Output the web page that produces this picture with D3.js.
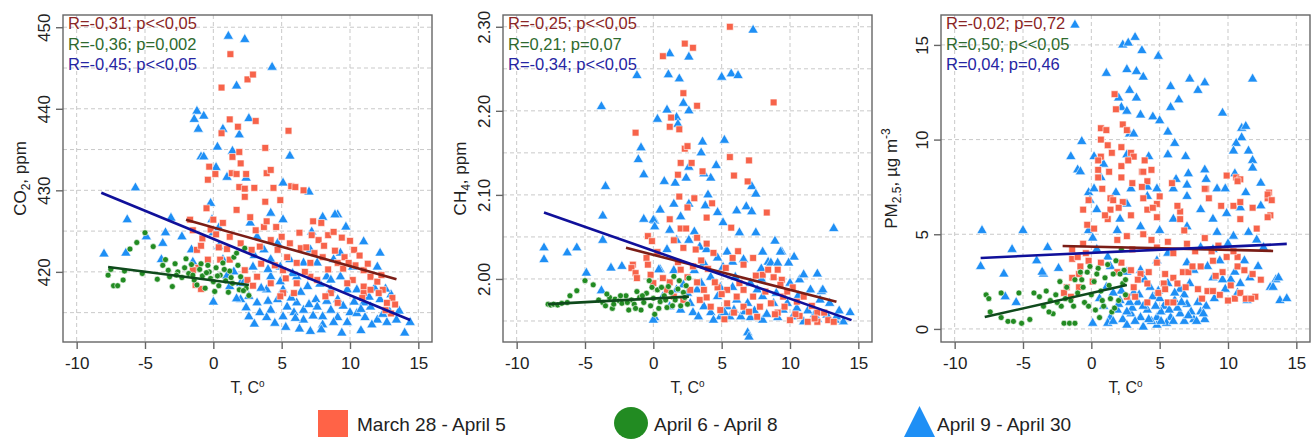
<!DOCTYPE html>
<html>
<head>
<meta charset="UTF-8">
<title>Temperature vs CO2, CH4, PM2.5</title>
<style>
    body { margin: 0; background: #fff; }
    svg { display: block; font-family: "Liberation Sans", Arial, sans-serif; }
</style>
</head>
<body>
<svg></svg>
<script src="https://d3js.org/d3.v7.min.js"></script>
<script>

// ---- data (temperature, value) ----
let tempTicks = [-10, -5, 0, 5, 10, 15];
let groupNames = ["March 28 - April 5", "April 6 - April 8", "April 9 - April 30"];

// CO2, ppm
let co2Ticks = [420, 430, 440, 450];
let co2Grid = [415, 420, 425, 430, 435, 440, 445, 450];
let co2Stats = ["R=-0,31; p<<0,05", "R=-0,36; p=0,002", "R=-0,45; p<<0,05"];
let co2Fit = [[-2.0, 426.4, 13.4, 419.1], [-7.7, 420.6, 2.6, 418.4], [-8.2, 429.7, 14.4, 414.1]];
let co2Sq = [[1.25,446.7],[0.6,442.6],[2.5,443.6],[2.9,444.2],[1.2,438.7],[1.8,437.8],[0.6,437.0],[3.1,438.5],[5.5,437.3],[3.8,435.2],[1.4,434.1],[1.9,434.7],[2.0,433.3],[-0.3,432.9],[0.15,432.0],[1.35,432.1],[1.7,432.0],[2.4,432.0],[3.9,432.1],[4.2,432.5],[-0.4,431.3],[1.9,430.4],[2.3,430.2],[3.0,430.3],[4.4,430.3],[5.7,430.5],[6.0,430.4],[6.6,430.0],
    [-0.5,427.8],[0.0,426.4],[-1.7,426.4],[-1.5,425.1],[-0.8,424.1],[-1.2,422.7],[-0.4,421.5],[0.7,426.0],[1.2,424.3],[2.3,429.2],[1.7,427.6],[2.7,426.7],[3.1,425.1],[3.7,425.5],[3.8,428.6],[4.9,428.8],[2.8,422.7],[3.4,423.1],[4.2,423.9],[4.7,422.7],[5.4,421.8],[5.6,423.5],[6.1,421.1],[6.4,422.9],[7.3,426.2],[7.9,426.0],[7.2,424.5],[7.7,423.9],[8.4,424.5],[8.8,424.9],[9.4,424.2],[10.0,423.8],[8.0,421.8],[9.1,421.1],[9.6,421.8],[10.3,422.7],[10.7,422.0],[11.0,420.2],[11.5,419.4],[12.0,418.8],[12.4,417.8],[13.1,416.8],[13.3,416.0],[12.7,416.2],[12.1,417.4],[11.0,418.2],[10.2,419.0],[9.8,418.6],[9.1,416.2],[8.6,417.4],[8.2,417.0],[7.6,419.0],[7.1,419.4],[6.1,418.6],[5.9,417.4],[5.1,417.4],[4.9,417.0],[4.2,418.6],[3.2,419.4],[2.5,419.0],[2.3,420.2],[1.2,421.5],[0.5,421.5],[-1.1,420.5],[-1.5,420.2],[5.1,420.2],[7.1,421.1],[11.0,417.4],[11.5,417.8],[-1.3,418.4],[-0.9,417.9],[-0.2,425.2],[0.4,423.0],[13.0,414.9],
    [3.5,421.0],[4.5,420.8],[5.3,419.2],[6.7,420.0],[7.4,422.3],[8.1,423.2],[8.9,422.6],[9.5,420.4],[10.4,420.8],[11.3,421.0],[12.3,419.6],[6.3,424.8],[5.0,424.3],[2.0,423.5],[1.0,422.8],[0.2,424.6],[-0.9,423.2],[3.9,426.2],[4.6,425.5],[6.8,423.0],[9.9,421.1],[12.6,415.3],[10.9,416.8],[8.4,420.3],[2.9,418.3]];
let co2Cir = [[-7.7,419.6],[-7.5,420.3],[-7.3,418.3],[-7.0,418.3],[-6.6,419.0],[-6.5,420.1],[-6.1,422.8],[-5.6,423.6],[-5.2,419.8],[-5.0,424.8],[-4.4,423.1],[-4.1,419.1],[-3.7,420.8],[-3.5,421.5],[-3.3,420.2],[-3.0,418.2],[-2.8,421.0],[-2.6,420.0],[-2.3,419.3],[-2.0,421.6],[-1.8,419.8],[-1.6,420.9],[-1.4,419.0],[-1.2,418.4],[-1.0,420.3],[-0.8,419.5],[-0.6,418.0],[-0.4,420.8],[-0.2,419.2],[0.0,418.8],[0.2,420.5],[0.4,418.3],[0.5,419.6],[0.7,421.1],[0.9,418.9],[1.1,417.5],[1.2,420.1],[1.4,418.6],[1.5,421.8],[1.7,422.3],[1.9,417.8],[2.0,419.4],[2.3,422.9],[2.4,418.0],[2.6,417.1],
    [-3.2,419.4],[-2.7,419.6],[-2.1,420.5],[-1.5,419.6],[-0.9,421.0],[-0.3,420.0],[0.3,419.5],[0.8,420.3],[1.3,419.3],[1.8,420.8],[2.2,417.7],[0.1,417.6],[-0.5,419.9]];
let co2Tri = [[1.1,448.9],[2.3,448.5],[4.3,445.1],[1.7,442.8],[-1.2,439.7],[-1.4,438.7],[-0.7,439.1],[-1.1,437.5],[0.7,437.5],[2.6,438.8],[1.9,436.8],[0.3,435.3],[1.4,434.8],[5.6,434.2],[-0.9,434.1],[-0.7,434.1],[0.2,432.8],[1.0,431.6],[2.4,431.5],[5.1,430.9],[7.0,429.8],[-5.7,430.3],
    [-8.0,422.2],[-6.3,426.4],[-6.4,422.3],[-4.9,424.3],[-3.5,424.8],[-3.7,423.5],[-3.8,421.5],[-3.1,426.6],[-2.3,424.3],[-1.6,422.7],[0.0,416.3],[2.6,414.5],[7.1,412.7],[9.4,412.5],[10.8,412.8],[14.0,412.5],[14.4,413.8],[12.2,422.3],[11.0,423.7],[9.1,427.0],[8.0,426.7],[9.3,422.3],[-0.1,426.4],[0.0,424.8],
    [8.9,427.0],[9.7,425.5],[12.0,420.6],[-1.5,421.2],[-0.2,428.4],[0.4,425.4],[0.4,423.1],[0.7,421.5],[1.2,418.2],[2.0,418.6],[2.6,417.0],[3.2,416.2],[3.9,417.8],[4.2,415.3],[3.9,414.4],[4.7,416.6],[5.1,417.8],[5.4,415.7],[5.9,415.0],[6.1,416.2],[6.6,415.3],[7.5,416.6],[8.0,414.5],[8.6,415.3],[9.1,414.4],[10.0,415.0],[11.1,414.4],[11.5,415.7],[12.2,416.6],[12.9,415.1],[13.4,414.1],[3.7,422.7],[4.2,421.5],[4.7,423.5],[4.9,420.6],[5.6,421.5],[6.1,419.4],[6.6,421.1],[7.1,422.7],[7.6,421.1],[8.3,419.4],[8.8,421.5],[9.3,419.4],[9.8,417.8],[10.5,417.8],[11.0,416.2],[8.6,417.8],[6.9,418.2],[4.2,419.4],[2.9,420.6],[2.2,418.6],[2.0,416.6],[2.7,426.0],[4.2,427.2],[5.1,426.4],[7.2,424.9],[3.2,424.3],[9.1,416.6],[7.6,415.7],[5.1,414.5],[6.6,414.1],[8.0,413.5],[9.8,413.8],[12.0,414.1],[12.7,413.8],
    [1.5,420.0],[3.5,418.0],[5.8,419.8],[7.8,418.5],[10.2,420.6],[11.8,418.0],[13.0,417.2],[3.0,422.0],[1.0,419.5],[6.3,413.0],[4.5,413.7],[10.5,414.9],
    [3.4,415.0],[4.0,416.4],[4.9,418.8],[5.7,416.8],[6.4,417.5],[7.0,416.0],[7.3,414.6],[8.3,416.4],[8.8,413.8],[9.5,415.8],[10.3,416.3],[10.8,415.4],[11.6,413.5],[12.4,414.8],[13.6,415.2],[2.4,415.6],[1.7,416.7],[6.0,414.3],[3.0,413.6],[5.3,413.2],[7.9,412.9],[11.4,416.9],[12.6,417.9],[8.6,419.0],[4.0,420.3]];

// CH4, ppm
let ch4Ticks = [2.0, 2.1, 2.2, 2.3];
let ch4Grid = [1.95, 2.0, 2.05, 2.1, 2.15, 2.2, 2.25, 2.3];
let ch4Stats = ["R=-0,25; p<<0,05", "R=0,21; p=0,07", "R=-0,34; p<<0,05"];
let ch4Fit = [[-2.0, 2.037, 13.4, 1.973], [-7.7, 1.970, 2.6, 1.979], [-8.0, 2.079, 14.5, 1.951]];
let ch4Sq = [[5.6,2.300],[2.3,2.280],[2.9,2.275],[0.7,2.265],[2.2,2.221],[3.2,2.206],[8.8,2.210],[1.3,2.192],[1.2,2.181],[1.9,2.178],[-1.3,2.174],[2.3,2.155],[2.5,2.158],[5.6,2.145],[7.0,2.141],[2.0,2.138],[2.8,2.138],[3.6,2.128],[1.8,2.124],[5.9,2.123],[6.9,2.116],
    [4.3,2.090],[2.5,2.085],[3.9,2.073],[1.2,2.071],[8.3,2.079],[5.7,2.061],[2.0,2.060],[2.4,2.060],[-0.4,2.051],[-0.1,2.045],[3.2,2.049],[2.2,2.037],[1.5,2.046],[3.1,2.035],[3.9,2.042],[4.4,2.031],[-0.5,2.025],[-0.4,2.017],[-1.5,2.017],[-1.6,2.013],[-1.3,2.007],[-1.2,2.001],[-0.2,2.005],[0.0,1.995],[0.7,2.001],[2.0,2.011],[2.5,2.002],[3.2,1.996],[2.7,1.987],[3.7,1.987],[4.7,1.990],[5.8,2.025],[6.6,2.017],[5.3,2.013],[8.0,2.005],[8.8,2.002],[8.4,2.011],[9.4,1.999],[9.3,1.993],[10.2,1.990],[11.0,1.979],[10.5,1.973],[9.6,1.967],[12.0,1.960],[11.3,1.949],[10.7,1.956],[12.0,1.949],[12.8,1.951],[13.2,1.949],[9.1,1.960],[8.6,1.971],[7.8,1.967],[7.3,1.979],[6.6,1.967],[6.1,1.979],[5.4,1.971],[4.9,1.963],[4.2,1.967],[3.4,1.975],[2.2,1.975],[1.5,1.979],[1.0,1.987],[1.2,1.996],[5.4,1.987],[6.6,1.987],[9.5,1.979],[7.6,1.955],[9.1,2.011],
    [3.9,1.978],[4.5,1.996],[5.0,1.982],[5.9,1.960],[6.3,1.995],[7.0,1.961],[7.5,2.004],[8.2,1.985],[8.9,1.958],[9.8,1.985],[10.4,1.958],[11.6,1.968],[12.5,1.960],[4.0,2.012],[3.5,2.022],[2.9,2.015],[1.8,2.020],[0.3,2.032],[1.9,2.098],[3.0,2.096],[6.2,2.033],[7.3,2.025],[10.0,1.951],[11.8,1.953],[5.2,1.952]];
let ch4Cir = [[-7.7,1.970],[-7.5,1.969],[-7.3,1.970],[-7.0,1.969],[-6.7,1.971],[-6.3,1.972],[-6.1,1.980],[-5.6,1.986],[-5.0,1.998],[-4.4,1.993],[-4.0,1.975],[-3.7,1.972],[-3.5,1.968],[-3.2,1.978],[-3.0,1.965],[-2.8,1.976],[-2.5,1.974],[-2.3,1.971],[-2.0,1.980],[-1.8,1.963],[-1.6,1.975],[-1.4,1.970],[-1.2,1.985],[-1.0,1.978],[-0.9,1.963],[-0.7,1.972],[-0.5,1.983],[-0.3,1.998],[-0.2,1.968],[0.0,1.977],[0.1,1.958],[0.3,1.987],[0.5,1.973],[0.6,1.990],[0.8,1.980],[1.0,1.966],[1.1,1.991],[1.3,1.984],[1.5,2.003],[1.6,1.975],[1.8,1.988],[2.0,1.968],[2.2,1.984],[2.4,1.992],[2.6,2.001],[2.5,1.970],
    [-3.4,1.982],[-2.9,1.970],[-2.4,1.980],[-1.9,1.972],[-1.3,1.965],[-0.8,1.980],[-0.1,1.990],[0.4,1.965],[0.9,1.975],[1.4,1.968],[1.9,1.998],[2.3,1.978]];
let ch4Tri = [[7.3,2.296],[1.2,2.268],[2.6,2.264],[-1.2,2.242],[1.1,2.243],[1.9,2.238],[5.0,2.240],[5.7,2.244],[6.2,2.242],[-3.8,2.205],[1.0,2.201],[2.2,2.209],[2.6,2.200],[0.3,2.190],[1.7,2.192],[1.8,2.184],[-0.9,2.156],[-1.1,2.142],[-0.7,2.124],[-3.5,2.110],[0.8,2.116],[1.6,2.114],[3.6,2.163],[3.5,2.150],[5.2,2.165],[4.6,2.135],[2.6,2.133],[4.2,2.120],[3.7,2.125],[7.2,2.110],[7.5,2.101],
    [-8.0,2.037],[-8.0,2.023],[-6.3,2.031],[-5.6,2.037],[-4.9,2.007],[-3.7,2.075],[-3.7,2.046],[-3.8,1.986],[-3.1,2.013],[-2.3,2.015],[-0.7,2.071],[0.1,2.069],[0.5,2.011],[0.1,1.954],[1.5,2.089],[2.6,2.089],[3.8,2.087],[4.7,2.079],[5.1,2.067],[6.1,2.081],[6.8,2.086],[7.2,2.080],[7.5,2.055],[6.9,1.936],[7.0,1.931],[13.2,2.060],[12.0,2.006],[12.3,1.985],[8.0,2.032],[9.4,2.032],[10.3,2.026],[8.4,2.020],[14.4,1.960],[13.9,1.949],[13.3,1.951],
    [0.0,2.070],[0.1,2.062],[2.0,2.074],[1.2,2.058],[1.7,2.046],[1.0,2.035],[0.4,2.011],[2.6,2.046],[3.0,2.056],[3.4,2.038],[3.9,2.035],[3.7,2.019],[4.7,2.025],[5.1,2.014],[5.4,2.032],[5.8,2.020],[6.6,2.023],[9.3,2.032],[8.6,2.019],[9.1,2.019],[9.9,2.019],[10.7,1.999],[11.5,1.987],[10.0,1.995],[12.4,1.987],[12.9,1.971],[13.4,1.955],[7.1,1.995],[7.6,1.987],[8.0,1.979],[8.8,1.971],[9.5,1.963],[10.2,1.955],[11.0,1.949],[9.1,1.954],[8.0,1.951],[7.1,1.954],[6.4,1.955],[5.6,1.955],[4.9,1.955],[4.2,1.960],[3.7,1.967],[2.9,1.960],[2.7,1.971],[2.5,1.983],[1.7,1.987],[1.2,1.967],[2.0,1.963],[4.7,1.979],[5.4,1.967],[6.1,1.975],[6.9,1.971],[4.9,1.990],[4.2,2.002],[3.2,1.987],[0.7,1.979],[0.0,1.951],
    [11.8,1.958],[10.5,1.965],[12.2,1.975],[6.0,2.002],[7.9,2.000],[3.0,2.010],
    [3.3,1.955],[4.4,1.951],[5.2,1.960],[5.9,1.963],[6.7,1.961],[7.4,1.962],[8.3,1.958],[9.0,1.983],[9.8,1.971],[10.6,1.980],[11.3,1.962],[12.0,1.952],[12.7,1.957],[13.6,1.962],[2.2,1.993],[1.5,2.010],[3.5,1.995],[5.8,1.990],[7.9,2.012],[11.0,2.005],[0.5,2.082],[2.4,2.120],[4.0,2.100],[6.3,2.055],[8.9,2.045]];

// PM2.5, ug m-3
let pmTicks = [0, 5, 10, 15];
let pmGrid = [0, 5, 10, 15];
let pmStats = ["R=-0,02; p=0,72", "R=0,50; p<<0,05", "R=0,04; p=0,46"];
let pmFit = [[-2.1, 4.38, 13.3, 4.12], [-7.8, 0.63, 2.6, 2.32], [-8.1, 3.75, 14.3, 4.49]];
let pmSq = [[1.7,12.4],[1.8,11.6],[0.7,10.6],[1.1,10.5],[0.7,10.0],[1.2,9.7],[2.2,9.6],[2.3,10.8],[2.6,10.5],[0.7,9.1],[0.5,8.9],[2.9,9.3],[3.1,9.1],[3.9,8.9],[2.2,8.6],[1.3,8.3],[0.5,8.4],[2.2,8.0],[3.7,8.3],[4.1,7.8],[5.9,7.7],[3.0,7.7],[3.7,7.5],[9.9,8.1],[10.6,8.0],[10.9,7.9],[8.4,7.4],[13.0,7.2],[12.9,6.9],
    [3.8,8.3],[0.5,8.0],[0.8,7.4],[-0.6,6.3],[-0.2,6.8],[3.8,6.9],[4.8,6.6],[1.4,6.9],[1.6,6.8],[2.3,6.7],[2.0,6.4],[1.4,6.3],[2.9,6.0],[1.2,5.8],[-0.3,5.5],[-0.6,4.5],[-1.4,4.2],[-1.4,3.7],[-0.8,3.3],[-0.9,2.9],[-1.4,2.7],[-1.8,2.2],[-2.0,1.9],[-1.5,1.7],[-0.9,2.2],[1.9,3.0],[2.9,3.1],[3.6,2.9],[4.2,3.0],[4.8,3.5],[5.4,2.9],[6.0,2.7],[6.3,2.4],[5.3,2.4],[4.1,2.4],[3.4,2.6],[3.1,2.2],[2.6,1.7],[3.2,1.7],[4.1,1.4],[4.9,1.9],[5.4,2.1],[5.6,1.4],[6.0,1.4],[6.7,3.0],[7.1,3.0],[7.4,3.3],[8.0,3.3],[7.8,2.1],[8.5,2.0],[8.9,2.0],[9.4,1.8],[10.2,2.3],[10.5,1.6],[10.9,1.9],[11.3,1.6],[12.0,1.7],[11.8,2.9],[10.7,3.3],[10.7,3.8],[9.9,3.8],[8.9,3.6],[8.8,4.1],[8.3,4.8],[9.3,4.4],[10.4,4.1],[7.0,4.5],[6.0,4.0],[4.8,4.3],[3.8,5.0],[2.6,4.9],[1.9,4.7],[0.7,3.5],[6.5,6.2],[6.5,5.8],[6.3,6.5],[4.8,5.9],[4.1,6.3],[4.5,6.4],[5.0,7.0],[8.6,6.9],[10.7,7.8],[10.4,6.5],[10.9,6.7],[11.8,6.4],[12.9,7.1],[13.1,6.0],[12.9,5.9],[12.1,5.3],[10.9,5.8],[8.3,7.4],
    [1.0,6.0],[0.2,5.3],[-0.4,4.0],[-1.0,3.8],[0.1,2.5],[-0.2,3.6],[2.2,3.5],[3.0,4.2],[4.4,4.7],[5.6,4.6],[7.6,4.1],[9.6,3.0],[11.2,3.1],[12.4,2.6],[8.1,1.6],[6.9,2.2],[9.1,2.8],[10.0,1.5],[11.7,1.6],[13.2,6.8],[2.7,8.9],[1.5,9.3],[4.4,8.4],[6.8,5.2],[9.5,6.5]];
let pmCir = [[-7.7,1.8],[-7.5,1.6],[-7.4,0.9],[-6.6,1.9],[-6.6,0.6],[-6.1,0.4],[-5.7,0.4],[-5.3,1.9],[-5.1,0.3],[-4.5,0.5],[-4.2,1.9],[-3.8,1.7],[-3.5,1.2],[-3.3,2.0],[-3.0,1.5],[-2.8,0.8],[-2.6,1.8],[-2.3,2.5],[-2.2,1.2],[-2.0,0.3],[-1.8,2.2],[-1.6,0.3],[-1.5,1.5],[-1.2,0.3],[-1.2,2.6],[-1.0,1.9],[-0.8,3.0],[-0.6,2.2],[-0.5,1.4],[-0.3,3.0],[-0.1,3.3],[0.0,1.8],[0.2,2.5],[0.3,1.0],[0.5,3.2],[0.7,2.0],[0.9,1.2],[1.0,2.7],[1.2,3.4],[1.4,1.6],[1.6,2.9],[1.8,3.6],[2.0,1.5],[2.2,4.2],[2.3,2.4],[2.5,1.8],[2.4,3.1],[1.5,0.9],[0.6,0.6],
    [-3.1,0.9],[-2.5,1.4],[-1.9,1.6],[-1.3,1.2],[-0.7,2.6],[-0.2,1.2],[0.4,2.9],[0.8,1.5],[1.3,2.3],[1.7,1.1],[2.1,2.9],[2.5,2.6]];
let pmTri = [[-1.2,16.05],[3.2,15.4],[2.3,15.0],[2.7,15.1],[3.7,14.7],[4.9,14.4],[1.1,13.5],[2.6,13.7],[3.3,13.6],[3.8,13.3],[7.2,13.2],[8.3,13.0],[11.8,13.2],[5.8,12.8],[7.8,12.6],[2.0,12.2],[2.8,12.6],[3.3,12.2],[6.4,12.1],[2.2,11.7],[2.6,11.5],[5.8,11.7],[9.6,11.4],[3.6,11.3],[4.5,11.2],[5.0,11.0],[11.0,10.6],[11.3,10.7],[5.6,10.4],[2.8,10.3],[3.1,10.3],[-0.7,9.9],[6.1,9.8],[11.0,10.1],[10.6,9.8],[-1.5,9.1],[0.2,9.1],[2.6,9.2],[4.2,9.1],[5.6,9.2],[6.9,9.1],[10.4,9.4],[11.5,9.4],[11.8,8.9],[11.8,8.5],[-1.0,8.4],[-0.8,8.3],[0.9,8.7],[7.1,8.2],[8.3,8.4],[10.5,8.2],[8.4,7.9],[6.2,7.9],[-0.2,7.2],[0.2,7.4],[2.9,7.4],[4.1,7.5],[4.8,7.4],[7.0,7.6],[9.2,7.4],[9.8,7.4],[11.3,7.2],[12.4,7.7],
    [-5.0,5.2],[-5.8,4.2],[-6.4,2.9],[-5.5,1.4],[-3.5,2.9],[-3.2,4.3],[-2.4,3.2],[0.1,0.3],[3.8,0.1],[4.8,0.2],
    [0.9,1.2],[1.4,0.6],[1.9,1.0],[2.3,0.5],[2.9,0.8],[3.4,1.4],[3.6,0.6],[4.1,1.0],[4.5,1.7],[4.8,0.6],[5.3,1.2],[5.8,0.6],[6.1,1.5],[6.5,0.8],[7.0,1.3],[7.5,0.5],[8.0,0.9],[8.3,0.5],[2.1,1.5],[3.1,1.9],[4.3,2.2],[5.6,2.4],[6.5,2.1],[7.2,2.4],[7.5,3.1],[8.5,3.3],[8.9,2.7],[9.4,3.6],[10.2,2.6],[10.9,2.4],[11.6,2.7],[10.7,1.9],[11.4,1.5],[13.1,2.2],[13.5,2.6],[13.8,1.5],[14.3,1.6],[8.9,4.2],[8.0,4.3],[10.4,4.9],[11.5,5.1],[12.1,4.7],[7.0,3.5],[5.6,4.0],[4.8,3.6],[3.6,3.1],[2.6,3.0],[1.4,3.3],[1.2,3.8],[0.4,4.2],[-0.2,5.2],[0.1,4.8],[1.9,5.2],[2.1,5.8],[3.6,5.4],[5.0,5.2],[6.0,5.8],[7.0,5.4],[8.0,6.3],[8.9,5.8],[9.9,6.1],[10.9,6.4],[12.4,6.5],[7.0,7.0],[6.0,7.4],[4.1,7.0],[2.6,6.6],[0.4,6.3],[0.7,8.0],[1.8,7.2],[-0.1,6.8],
    [-8.0,5.2],[-8.1,3.3],[-6.3,1.7],[-4.0,3.6],[-3.6,3.0],[13.7,2.7],[13.3,2.2],
    [1.2,0.3],[2.6,0.2],[3.0,1.1],[4.4,0.4],[5.1,0.9],[5.5,0.3],[6.3,1.1],[6.8,0.4],[7.3,0.9],[7.8,1.4],[8.4,1.2],[2.2,2.0],[3.9,2.6],[5.0,1.6],[6.8,1.8],[1.6,1.9],[9.0,1.6],[9.8,2.1],[12.2,3.3],[10.0,4.5],
    [1.6,0.4],[2.0,1.3],[2.6,0.9],[3.2,0.4],[3.8,1.2],[4.2,0.5],[4.7,1.2],[5.1,0.4],[5.7,1.0],[6.0,0.4],[6.6,1.4],[7.1,0.7],[7.7,0.4],[8.2,0.8],[3.5,1.8],[4.9,2.0],[6.1,1.9],[2.8,1.4],[1.1,2.2],[0.6,1.6],[9.6,2.6],[10.5,3.0],[11.2,3.6],[12.6,4.3],[9.2,5.1]];

// ---- layout ----
let width = 1314, height = 439;
let svg = d3.select("svg").attr("width", width).attr("height", height);

let plotTop = 15, plotBottom = 342, frameW = 369;
let pointColors = ["#f7634a", "#228b22", "#1e8ff5"];
let fitColors = ["#7a1d16", "#0f4a1c", "#10109a"];
let statColors = ["#8b2626", "#2e6a2e", "#2525a3"];
let gridColor = "#c9c9c9", axisColor = "#666";
let plainNum = d => String(d);

let panels = [
    { left: 63, domain: [411.4, 451.5], ticks: co2Ticks, grid: co2Grid, fmt: plainNum,
      sq: co2Sq, cir: co2Cir, tri: co2Tri, fit: co2Fit, stats: co2Stats, titleOff: 37,
      title: [["CO", ""], ["2", "sub"], [", ppm", ""]] },
    { left: 503, domain: [1.925, 2.314], ticks: ch4Ticks, grid: ch4Grid, fmt: d3.format(".2f"),
      sq: ch4Sq, cir: ch4Cir, tri: ch4Tri, fit: ch4Fit, stats: ch4Stats, titleOff: 37,
      title: [["CH", ""], ["4", "sub"], [", ppm", ""]] },
    { left: 941, domain: [-0.69, 16.58], ticks: pmTicks, grid: pmGrid, fmt: plainNum,
      sq: pmSq, cir: pmCir, tri: pmTri, fit: pmFit, stats: pmStats, titleOff: 44,
      title: [["PM", ""], ["2.5", "sub"], [", \u00b5g m", ""], ["-3", "sup"]] }
];

let sqPath = d3.symbol().type(d3.symbolSquare).size(46)();
let cirPath = d3.symbol().type(d3.symbolCircle).size(28)();
let triPath = d3.symbol().type(d3.symbolTriangle).size(46)();

panels.forEach(p => {
    let x = d3.scaleLinear().domain([-11, 16]).range([p.left, p.left + frameW]);
    let y = d3.scaleLinear().domain(p.domain).range([plotBottom, plotTop]);
    let g = svg.append("g");

    // grid
    g.append("g").selectAll("line").data(tempTicks).join("line")
        .attr("x1", d => x(d)).attr("x2", d => x(d))
        .attr("y1", plotTop).attr("y2", plotBottom)
        .attr("stroke", gridColor).attr("stroke-dasharray", "4,3");
    g.append("g").selectAll("line").data(p.grid).join("line")
        .attr("x1", p.left).attr("x2", p.left + frameW)
        .attr("y1", d => y(d)).attr("y2", d => y(d))
        .attr("stroke", gridColor).attr("stroke-dasharray", "4,3");

    // points
    let plot = (data, path, color) => {
        g.append("g").selectAll("path").data(data).join("path")
            .attr("d", path)
            .attr("transform", d => "translate(" + x(d[0]) + "," + y(d[1]) + ")")
            .attr("fill", color)
            .attr("stroke", "#fff").attr("stroke-width", 0.6);
    };
    plot(p.tri, triPath, pointColors[2]);
    plot(p.sq, sqPath, pointColors[0]);
    plot(p.cir, cirPath, pointColors[1]);

    // regression lines
    g.append("g").selectAll("line").data(p.fit).join("line")
        .attr("x1", d => x(d[0])).attr("y1", d => y(d[1]))
        .attr("x2", d => x(d[2])).attr("y2", d => y(d[3]))
        .attr("stroke", (d, i) => fitColors[i])
        .attr("stroke-width", 2.6);

    // frame
    g.append("rect")
        .attr("x", p.left).attr("y", plotTop)
        .attr("width", frameW).attr("height", plotBottom - plotTop)
        .attr("fill", "none").attr("stroke", axisColor).attr("stroke-width", 1.4);

    // axes
    let xAxis = g.append("g")
        .attr("transform", "translate(0," + plotBottom + ")")
        .call(d3.axisBottom(x).tickValues(tempTicks).tickFormat(plainNum)
            .tickSize(7).tickPadding(8).tickSizeOuter(0));
    let yAxis = g.append("g")
        .attr("transform", "translate(" + p.left + ",0)")
        .call(d3.axisLeft(y).tickValues(p.ticks).tickFormat(p.fmt).tickSize(7).tickSizeOuter(0));
    [xAxis, yAxis].forEach(a => {
        a.select(".domain").remove();
        a.selectAll("line").attr("stroke", axisColor).attr("stroke-width", 1.4);
        a.selectAll("text").attr("fill", "#222").style("font-size", "17px")
            .style("font-family", "'Liberation Sans', Arial, sans-serif");
    });
    yAxis.selectAll("text")
        .attr("x", null).attr("dy", null)
        .attr("text-anchor", "middle")
        .attr("transform", "translate(-13,0) rotate(-90)");

    // axis titles
    g.append("text")
        .attr("x", p.left + frameW / 2).attr("y", 393)
        .attr("text-anchor", "middle").style("font-size", "16px").attr("fill", "#222")
        .text("T, C")
        .append("tspan").attr("dy", -6).style("font-size", "10px").text("o");

    let yt = g.append("text")
        .attr("transform", "translate(" + (p.left - p.titleOff) + "," + ((plotTop + plotBottom) / 2) + ") rotate(-90)")
        .attr("text-anchor", "middle").style("font-size", "17px").attr("fill", "#222");
    let shift = 0;
    p.title.forEach(t => {
        let s = yt.append("tspan").text(t[0]);
        let want = t[1] === "sub" ? 4 : t[1] === "sup" ? -7 : 0;
        s.attr("dy", want - shift);
        shift = want;
        if (t[1]) s.style("font-size", "12px");
    });

    // statistics
    g.append("g").selectAll("text").data(p.stats).join("text")
        .attr("x", p.left + 5).attr("y", (d, i) => 29 + i * 20.5)
        .attr("fill", (d, i) => statColors[i])
        .style("font-size", "16.5px")
        .text(d => d);
});

// ---- legend ----
let legend = svg.append("g");
legend.append("rect").attr("x", 318).attr("y", 410).attr("width", 30).attr("height", 27)
    .attr("fill", "#ff6347");
legend.append("ellipse").attr("cx", 631).attr("cy", 423).attr("rx", 17).attr("ry", 16)
    .attr("fill", pointColors[1]);
legend.append("path").attr("d", "M904,437L935,437L919.5,406Z").attr("fill", pointColors[2]);
let legendX = [357, 654, 937];
legend.selectAll("text").data(groupNames).join("text")
    .attr("x", (d, i) => legendX[i]).attr("y", 431)
    .style("font-size", "19px").attr("fill", "#222")
    .text(d => d);

</script>
</body>
</html>
